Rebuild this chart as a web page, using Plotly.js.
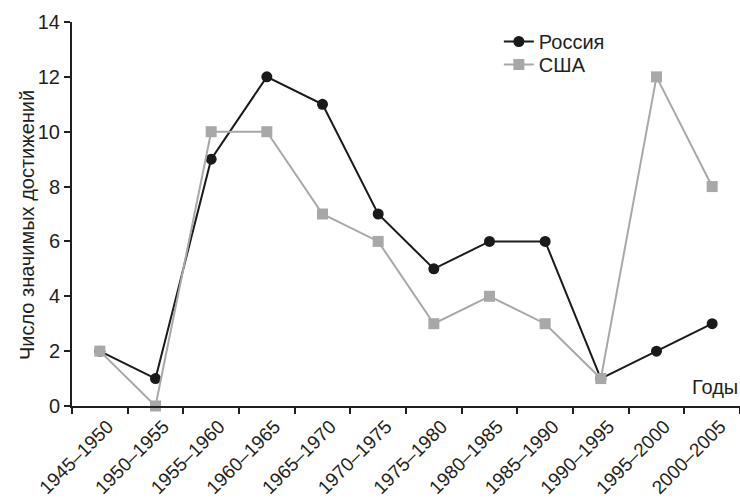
<!DOCTYPE html>
<html>
<head>
<meta charset="utf-8">
<script src="https://cdn.plot.ly/plotly-3.0.1.min.js"></script>
<style>html,body{margin:0;padding:0;background:#fff;}#chart{width:740px;height:499px;}</style>
</head>
<body>
<div id="chart"></div>
<script>
var periods = ["1945–1950","1950–1955","1955–1960","1960–1965","1965–1970","1970–1975","1975–1980","1980–1985","1985–1990","1990–1995","1995–2000","2000–2005"];
var russia = [2,1,9,12,11,7,5,6,6,1,2,3];
var usa = [2,0,10,10,7,6,3,4,3,1,12,8];
var yTicks = [0,2,4,6,8,10,12,14];

var font = "Liberation Sans, Arial, sans-serif";
var txt = "#231f20";
var traces = [
  {x: periods, y: russia, name: "Россия", type: "scatter", mode: "lines+markers", legend: "legend",
   line: {color: "#1a1a1a", width: 2}, marker: {symbol: "circle", size: 11, color: "#1a1a1a"}, cliponaxis: false},
  {x: periods, y: usa, name: "США", type: "scatter", mode: "lines+markers", legend: "legend2",
   line: {color: "#a8a8a8", width: 2}, marker: {symbol: "square", size: 11, color: "#a8a8a8"}, cliponaxis: false}
];
var legFont = {family: font, size: 20, color: txt};
var layout = {
  width: 740, height: 499,
  margin: {l: 72, r: 0, t: 22, b: 93},
  paper_bgcolor: "#fff", plot_bgcolor: "#fff",
  font: {family: font, size: 20, color: txt},
  showlegend: true,
  legend: {x: 0.639, y: 1.0, xanchor: "left", yanchor: "top", bgcolor: "rgba(0,0,0,0)",
           font: legFont, itemwidth: 30},
  legend2: {x: 0.639, y: 0.94, xanchor: "left", yanchor: "top", bgcolor: "rgba(0,0,0,0)",
           font: legFont, itemwidth: 30},
  xaxis: {type: "category", range: [-0.5, 11.5], showgrid: false, zeroline: false,
          showline: true, linecolor: txt, linewidth: 2,
          ticks: "outside", ticklen: 6, tickwidth: 2, tickcolor: txt, tickson: "boundaries",
          tickangle: -45, ticklabelstandoff: 0, ticklabelshift: 8, tickfont: {family: font, size: 19, color: txt}},
  yaxis: {range: [0, 14], tickvals: yTicks, showgrid: false, zeroline: false,
          showline: true, linecolor: txt, linewidth: 2,
          ticks: "outside", ticklen: 6, tickwidth: 2, tickcolor: txt,
          tickfont: {family: font, size: 20, color: txt}},
  annotations: [
    {text: "Годы", xref: "paper", yref: "paper", x: 1, y: 0.015, xanchor: "right", yanchor: "bottom",
     showarrow: false, font: {family: font, size: 20, color: txt}},
    {text: "Число значимых достижений", xref: "paper", yref: "paper", x: -0.0674, y: 0.471,
     xanchor: "center", yanchor: "middle", textangle: -90, showarrow: false,
     font: {family: font, size: 20, color: txt}}
  ]
};
Plotly.newPlot("chart", traces, layout, {displayModeBar: false, staticPlot: true});
</script>
</body>
</html>
